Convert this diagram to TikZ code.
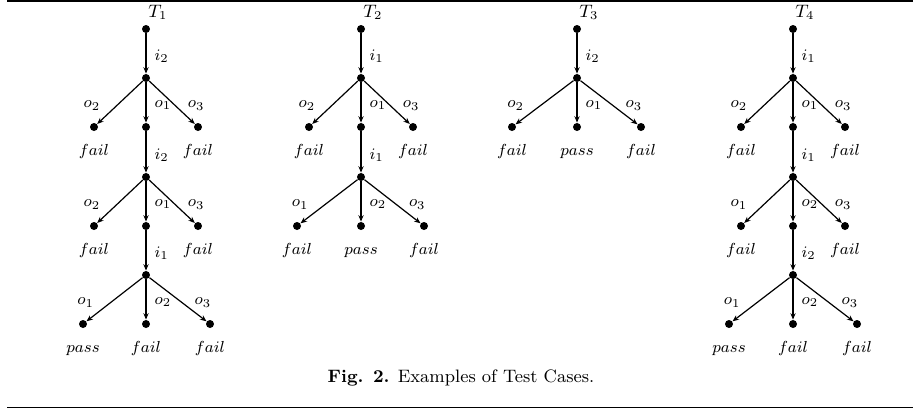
\documentclass[tikz,border=0pt]{standalone}
\usepackage{amsmath,amsfonts}
\usetikzlibrary{positioning,arrows.meta}

\tikzset{
 dot/.style={circle,fill=black,inner sep=0pt,minimum size=4pt},
 edge/.style={-{Stealth[length=3.2pt,width=2.6pt]},line width=0.6pt},
 lbl/.style={font=\footnotesize,inner sep=1pt},
 lo/.style={lbl,pos=.57,left=7pt},
 mo/.style={lbl,pos=.57,right=3pt},
 ro/.style={lbl,pos=.57,right=5pt},
 leaf/.style={font=\footnotesize,inner sep=1pt,yshift=-4.5pt,text height=1.5ex,text depth=.25ex},
 title/.style={font=\small,inner sep=1pt}
}

\begin{document}
\begin{tikzpicture}[x=0.5pt,y=-0.5pt]
\useasboundingbox (0,0) rectangle (920,409);
\draw[line width=1pt] (7,1)--(913,1);
\draw[line width=0.5pt] (7,407)--(913,407);
% T_1
\begin{scope}[shift={(146,29)}]
 \node[title] (t1) at (12,-17) {$T_1$};
 \node[dot] (t1r) at (0,0) {};
 \node[dot] (t1a) at (0,49) {};
 \node[dot,label={[leaf]below:$fail$}] (t1a1) at (-52,98) {};
 \node[dot] (t1a2) at (0,98) {};
 \node[dot,label={[leaf]below:$fail$}] (t1a3) at (52,98) {};
 \node[dot] (t1b) at (0,148) {};
 \node[dot,label={[leaf]below:$fail$}] (t1b1) at (-52,197) {};
 \node[dot] (t1b2) at (0,197) {};
 \node[dot,label={[leaf]below:$fail$}] (t1b3) at (52,197) {};
 \node[dot] (t1c) at (0,246) {};
 \node[dot,label={[leaf]below:$pass$}] (t1c1) at (-63,295) {};
 \node[dot,label={[leaf]below:$fail$}] (t1c2) at (0,295) {};
 \node[dot,label={[leaf]below:$fail$}] (t1c3) at (64,295) {};
 \draw[edge] (t1r)--node[mo] {$i_2$} (t1a);
 \draw[edge] (t1a)--node[lo] {$o_2$} (t1a1);
 \draw[edge] (t1a)--node[mo] {$o_1$} (t1a2);
 \draw[edge] (t1a)--node[ro] {$o_3$} (t1a3);
 \draw[edge] (t1a2)--node[mo] {$i_2$} (t1b);
 \draw[edge] (t1b)--node[lo] {$o_2$} (t1b1);
 \draw[edge] (t1b)--node[mo] {$o_1$} (t1b2);
 \draw[edge] (t1b)--node[ro] {$o_3$} (t1b3);
 \draw[edge] (t1b2)--node[mo] {$i_1$} (t1c);
 \draw[edge] (t1c)--node[lo] {$o_1$} (t1c1);
 \draw[edge] (t1c)--node[mo] {$o_2$} (t1c2);
 \draw[edge] (t1c)--node[ro] {$o_3$} (t1c3);
\end{scope}
% T_2
\begin{scope}[shift={(361,29)}]
 \node[title] (t2) at (12,-17) {$T_2$};
 \node[dot] (t2r) at (0,0) {};
 \node[dot] (t2a) at (0,49) {};
 \node[dot,label={[leaf]below:$fail$}] (t2a1) at (-52,98) {};
 \node[dot] (t2a2) at (0,98) {};
 \node[dot,label={[leaf]below:$fail$}] (t2a3) at (52,98) {};
 \node[dot] (t2b) at (0,148) {};
 \node[dot,label={[leaf]below:$fail$}] (t2b1) at (-64,197) {};
 \node[dot,label={[leaf]below:$pass$}] (t2b2) at (0,197) {};
 \node[dot,label={[leaf]below:$fail$}] (t2b3) at (63,197) {};
 \draw[edge] (t2r)--node[mo] {$i_1$} (t2a);
 \draw[edge] (t2a)--node[lo] {$o_2$} (t2a1);
 \draw[edge] (t2a)--node[mo] {$o_1$} (t2a2);
 \draw[edge] (t2a)--node[ro] {$o_3$} (t2a3);
 \draw[edge] (t2a2)--node[mo] {$i_1$} (t2b);
 \draw[edge] (t2b)--node[lo] {$o_1$} (t2b1);
 \draw[edge] (t2b)--node[mo] {$o_2$} (t2b2);
 \draw[edge] (t2b)--node[ro] {$o_3$} (t2b3);
\end{scope}
% T_3
\begin{scope}[shift={(577,29)}]
 \node[title] (t3) at (12,-17) {$T_3$};
 \node[dot] (t3r) at (0,0) {};
 \node[dot] (t3a) at (0,49) {};
 \node[dot,label={[leaf]below:$fail$}] (t3a1) at (-65,98) {};
 \node[dot,label={[leaf]below:$pass$}] (t3a2) at (0,98) {};
 \node[dot,label={[leaf]below:$fail$}] (t3a3) at (64,98) {};
 \draw[edge] (t3r)--node[mo] {$i_2$} (t3a);
 \draw[edge] (t3a)--node[lo] {$o_2$} (t3a1);
 \draw[edge] (t3a)--node[mo] {$o_1$} (t3a2);
 \draw[edge] (t3a)--node[ro] {$o_3$} (t3a3);
\end{scope}
% T_4
\begin{scope}[shift={(793,29)}]
 \node[title] (t4) at (12,-17) {$T_4$};
 \node[dot] (t4r) at (0,0) {};
 \node[dot] (t4a) at (0,49) {};
 \node[dot,label={[leaf]below:$fail$}] (t4a1) at (-52,98) {};
 \node[dot] (t4a2) at (0,98) {};
 \node[dot,label={[leaf]below:$fail$}] (t4a3) at (52,98) {};
 \node[dot] (t4b) at (0,148) {};
 \node[dot,label={[leaf]below:$fail$}] (t4b1) at (-52,197) {};
 \node[dot] (t4b2) at (0,197) {};
 \node[dot,label={[leaf]below:$fail$}] (t4b3) at (52,197) {};
 \node[dot] (t4c) at (0,246) {};
 \node[dot,label={[leaf]below:$pass$}] (t4c1) at (-64,295) {};
 \node[dot,label={[leaf]below:$fail$}] (t4c2) at (0,295) {};
 \node[dot,label={[leaf]below:$fail$}] (t4c3) at (64,295) {};
 \draw[edge] (t4r)--node[mo] {$i_1$} (t4a);
 \draw[edge] (t4a)--node[lo] {$o_2$} (t4a1);
 \draw[edge] (t4a)--node[mo] {$o_1$} (t4a2);
 \draw[edge] (t4a)--node[ro] {$o_3$} (t4a3);
 \draw[edge] (t4a2)--node[mo] {$i_1$} (t4b);
 \draw[edge] (t4b)--node[lo] {$o_1$} (t4b1);
 \draw[edge] (t4b)--node[mo] {$o_2$} (t4b2);
 \draw[edge] (t4b)--node[ro] {$o_3$} (t4b3);
 \draw[edge] (t4b2)--node[mo] {$i_2$} (t4c);
 \draw[edge] (t4c)--node[lo] {$o_1$} (t4c1);
 \draw[edge] (t4c)--node[mo] {$o_2$} (t4c2);
 \draw[edge] (t4c)--node[ro] {$o_3$} (t4c3);
\end{scope}
% caption
\node[font=\small] (cap) at (461,378) {\textbf{Fig. 2.} Examples of Test Cases.};
\end{tikzpicture}
\end{document}
